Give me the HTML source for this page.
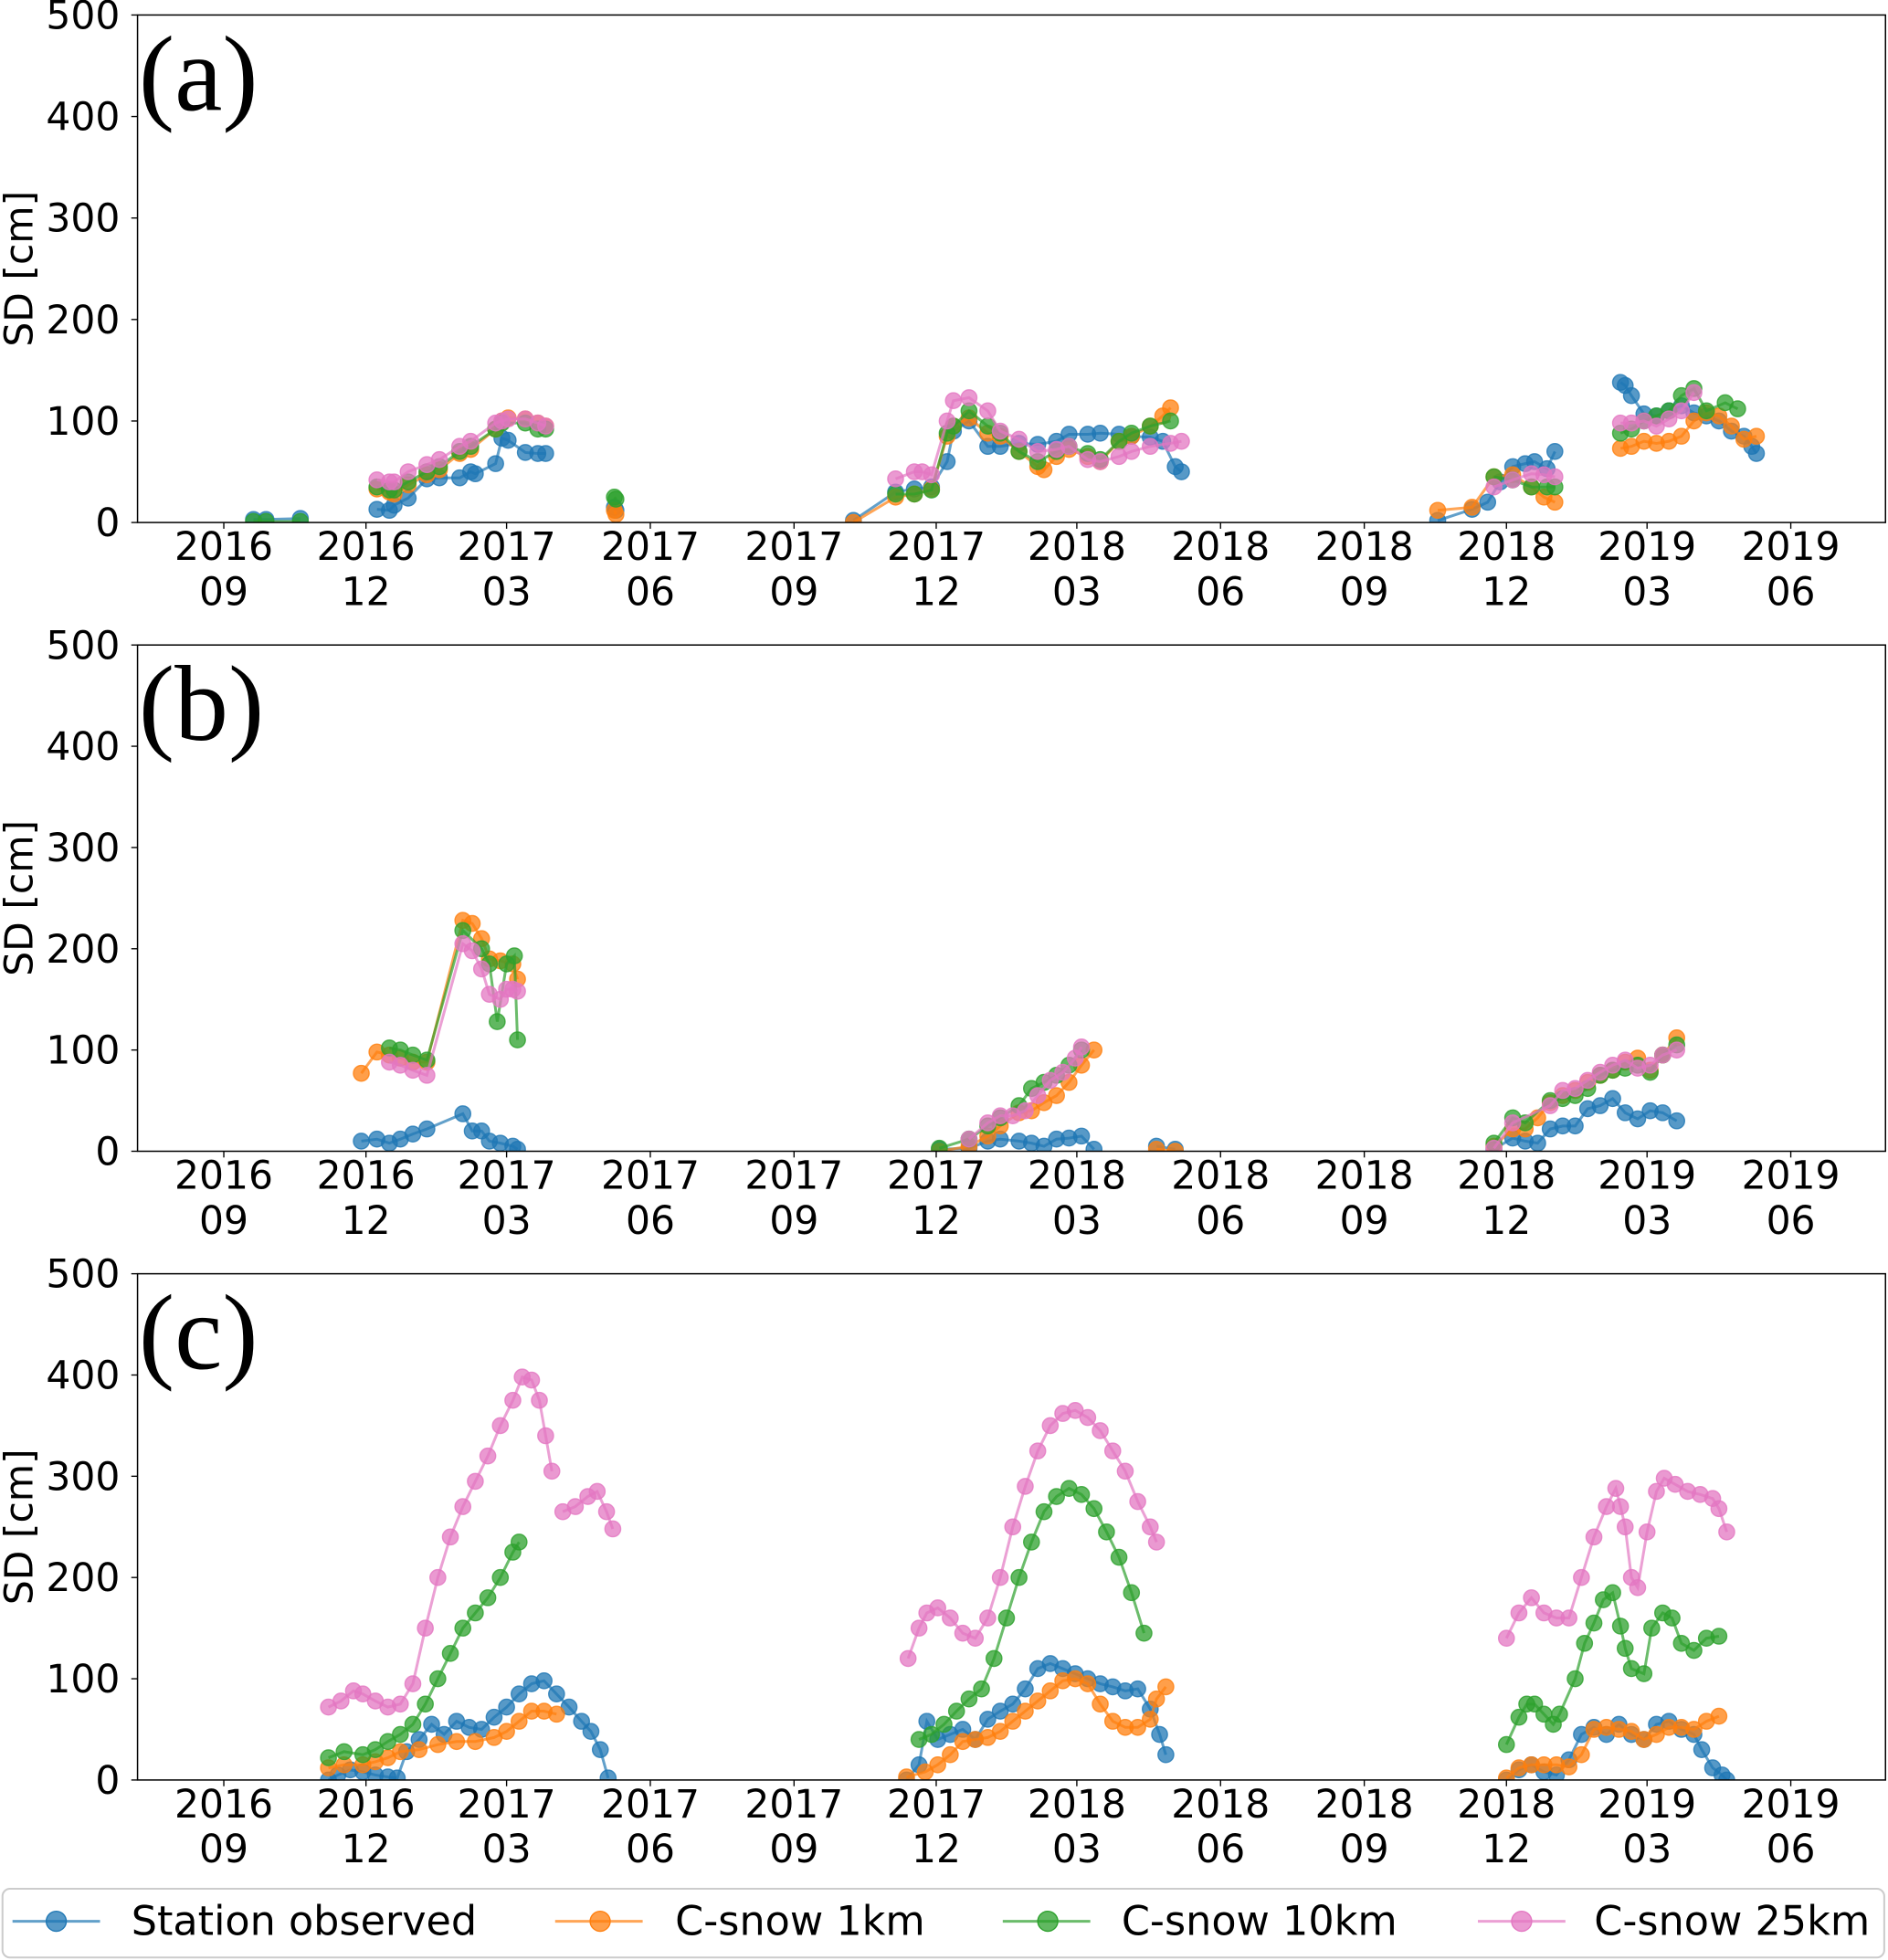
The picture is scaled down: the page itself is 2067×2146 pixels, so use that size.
<!DOCTYPE html>
<html><head><meta charset="utf-8"><style>
html,body{margin:0;padding:0;background:#fff}
svg{display:block}
text{font-family:"DejaVu Sans","Liberation Sans",sans-serif;fill:#000}
</style></head><body>
<svg id="chart" width="2067" height="2146" viewBox="0 0 1510 1568" preserveAspectRatio="none" xmlns="http://www.w3.org/2000/svg"></svg>
<script>
// ---------- data (days since 2016-09-01, SD in cm; null = gap) ----------
const xTickLabels=[["2016","09"],["2016","12"],["2017","03"],["2017","06"],["2017","09"],["2017","12"],["2018","03"],["2018","06"],["2018","09"],["2018","12"],["2019","03"],["2019","06"]];
const xTickDays=[0,91,181,273,365,456,546,638,730,821,911,1003];
const yTickValues=[0,100,200,300,400,500];
const panelLetters=["(a)","(b)","(c)"];
const seriesNames=["Station observed","C-snow 1km","C-snow 10km","C-snow 25km"];

// Panel (a)
const aStationDays=[19,27,49,null,98,106,109,118,130,138,151,158,161,174,178,182,193,201,206,null,250,251,null,403,430,442,453,463,467,477,489,497,509,521,533,541,553,561,573,581,593,601,609,613,null,777,799,809,817,825,833,839,847,852,null,894,897,901,909,917,925,933,941,949,957,965,973,978,981];
const aStationSD=[3,3,4,null,13,12,17,24,43,44,44,50,48,58,83,81,69,68,68,null,15,12,null,2,30,33,35,60,90,100,75,75,78,77,80,87,87,88,87,85,84,80,55,50,null,2,13,20,40,55,58,60,53,70,null,138,135,125,107,105,110,115,108,105,100,90,85,75,68];
const a1kmDays=[98,106,109,118,130,138,151,158,174,178,182,193,201,206,null,250,251,null,403,430,442,453,463,467,477,489,497,509,521,525,533,541,553,561,573,581,593,601,606,null,777,799,813,825,837,845,852,null,894,901,909,917,925,933,941,949,957,965,973,981];
const a1kmSD=[33,30,28,37,47,52,68,72,92,100,103,102,98,95,null,12,8,null,0,25,28,33,85,95,103,88,85,70,55,52,65,72,65,60,80,85,95,105,113,null,12,15,45,47,35,25,20,null,73,75,80,78,80,85,100,108,105,95,82,85];
const a10kmDays=[19,27,49,null,98,106,109,118,130,138,151,158,174,178,193,201,206,null,250,251,null,430,442,453,463,467,477,489,497,509,521,533,541,553,561,573,581,593,606,null,813,825,837,847,852,null,894,901,909,917,925,933,941,949,961,969];
const a10kmSD=[1,1,1,null,35,32,32,40,50,55,70,75,92,98,98,92,92,null,25,23,null,28,28,32,88,95,110,95,88,70,60,70,75,68,62,80,88,95,100,null,45,42,35,35,35,null,88,92,100,105,110,125,132,110,118,112];
const a25kmDays=[98,106,109,118,130,138,151,158,174,178,182,193,201,206,null,430,442,447,453,463,467,477,489,497,509,521,533,541,553,561,573,581,593,606,613,null,813,825,837,845,852,null,894,901,909,917,925,933,941];
const a25kmSD=[42,40,40,50,57,62,75,80,98,100,102,102,98,95,null,43,50,50,47,100,120,123,110,90,82,70,72,75,62,60,65,70,75,78,80,null,35,42,48,47,45,null,98,98,100,95,102,110,128];

// Panel (b)
const bStationDays=[88,98,106,113,121,130,153,159,165,170,177,185,188,null,458,477,489,497,509,517,525,533,541,549,557,null,597,609,null,813,825,833,841,849,857,865,873,881,889,897,905,913,921,930];
const bStationSD=[10,12,8,12,17,22,37,20,20,10,8,5,2,null,2,3,10,12,10,8,5,12,13,15,2,null,5,2,null,2,13,10,8,22,25,25,42,45,52,38,32,40,38,30];
const b1kmDays=[88,98,106,113,121,130,153,159,165,170,177,185,188,null,458,477,489,497,509,517,525,533,541,549,557,null,597,609,null,813,825,833,841,849,857,865,873,881,889,897,905,913,921,930];
const b1kmSD=[77,98,95,92,88,88,228,225,210,190,188,185,170,null,0,5,15,25,38,40,48,55,68,85,100,null,2,0,null,5,22,22,33,48,55,60,68,75,80,88,92,80,95,112];
const b10kmDays=[106,113,121,130,153,165,170,175,181,186,188,null,458,477,489,497,509,517,525,533,541,549,null,813,825,833,849,857,865,873,881,889,897,905,913,921,930];
const b10kmSD=[102,100,95,90,218,200,185,128,185,193,110,null,3,12,25,33,45,62,68,75,85,100,null,8,33,28,50,52,55,62,75,80,82,85,78,95,105];
const b25kmDays=[106,113,121,130,153,159,165,170,177,181,185,188,null,477,489,497,505,513,521,529,537,545,549,null,813,825,849,857,865,873,881,889,897,905,913,921,930];
const b25kmSD=[88,85,80,75,205,198,180,155,150,160,160,158,null,12,28,35,35,40,55,70,78,92,103,null,3,28,45,60,62,70,78,85,90,82,85,95,100];

// Panel (c)
const cStationDays=[67,73,81,89,97,105,111,117,125,133,141,149,157,165,173,181,189,197,205,213,221,229,235,241,246,null,437,445,450,457,465,473,481,489,497,505,513,521,529,537,545,553,561,569,577,585,593,599,603,null,821,829,837,845,853,861,869,877,885,893,901,909,917,925,933,941,946,953,959,962];
const cStationSD=[0,5,10,8,5,3,2,28,40,55,45,58,52,50,62,72,85,95,98,85,72,58,48,30,2,null,0,15,58,40,45,50,40,60,68,75,90,110,115,110,105,100,95,92,88,90,70,45,25,null,0,10,15,8,5,20,45,52,45,55,45,40,55,58,50,45,30,12,5,0];
const c1kmDays=[67,77,89,97,105,113,125,137,149,161,173,181,189,197,205,213,null,437,449,457,465,473,481,489,497,505,513,521,529,537,545,553,561,569,577,585,593,597,603,null,821,829,837,845,853,861,869,877,885,893,901,909,917,925,933,941,949,957];
const c1kmSD=[12,15,15,18,22,28,30,35,38,38,42,48,58,68,68,65,null,3,8,15,25,38,40,42,48,58,68,78,88,98,100,95,75,58,52,52,60,80,92,null,2,12,15,15,15,13,25,50,52,50,48,40,45,52,52,50,58,63];
const c10kmDays=[67,77,89,97,105,113,121,129,137,145,153,161,169,177,185,189,null,445,453,461,469,477,485,493,501,509,517,525,533,541,549,557,565,573,581,589,null,821,829,834,839,845,851,855,865,871,877,883,889,894,897,901,909,914,921,927,933,941,949,957];
const c10kmSD=[22,28,25,30,38,45,55,75,100,125,150,165,180,200,225,235,null,40,45,55,68,80,90,120,160,200,235,265,280,288,282,268,245,220,185,145,null,35,62,75,75,65,55,65,100,135,155,178,185,152,130,110,105,150,165,160,135,128,140,142];
const c25kmDays=[67,75,83,89,97,105,113,121,129,137,145,153,161,169,177,185,191,197,202,206,210,null,217,225,233,239,245,249,null,438,445,450,457,465,473,481,489,497,505,513,521,529,537,545,553,561,569,577,585,593,597,null,821,829,837,845,853,861,869,877,885,891,894,897,901,905,911,917,922,929,937,945,953,957,962];
const c25kmSD=[72,78,88,85,78,72,75,95,150,200,240,270,295,320,350,375,398,395,375,340,305,null,265,270,280,285,265,248,null,120,150,165,170,160,145,140,160,200,250,290,325,350,362,365,358,345,325,305,275,250,235,null,140,165,180,165,160,160,200,240,270,288,270,250,200,190,245,285,298,292,285,282,278,268,245];

const panels=[
  {top:12,bottom:418,series:[[aStationDays,aStationSD],[a1kmDays,a1kmSD],[a10kmDays,a10kmSD],[a25kmDays,a25kmSD]]},
  {top:516,bottom:921,series:[[bStationDays,bStationSD],[b1kmDays,b1kmSD],[b10kmDays,b10kmSD],[b25kmDays,b25kmSD]]},
  {top:1019,bottom:1424,series:[[cStationDays,cStationSD],[c1kmDays,c1kmSD],[c10kmDays,c10kmSD],[c25kmDays,c25kmSD]]}
];
const colors=["#1f77b4","#ff7f0e","#2ca02c","#e377c2"];
const seriesKeys=["station","csnow-1km","csnow-10km","csnow-25km"];

// ---------- rendering ----------
const NS="http://www.w3.org/2000/svg";
const svg=document.getElementById('chart');
const L=110,R=1508;
function xScale(d){return 179+d*1.2495;}
function yScale(v,p){return p.bottom-v*(p.bottom-p.top)/500;}
function mk(tag,attrs,parent){const e=document.createElementNS(NS,tag);for(const k in attrs)e.setAttribute(k,attrs[k]);(parent||svg).appendChild(e);return e;}

panels.forEach((p,pi)=>{
  const letter="abc"[pi];
  const g=mk('g',{});
  
  
  const clipId='clip'+pi;
  const cp=mk('clipPath',{id:clipId},g);
  mk('rect',{x:L,y:p.top,width:R-L,height:p.bottom-p.top},cp);
  p.series.forEach((s,si)=>{
    const days=s[0],vals=s[1];
    const sg=mk('g',{'clip-path':'url(#'+clipId+')'},g);
    
    
    let d="",pen=false;
    for(let i=0;i<days.length;i++){
      if(days[i]===null||vals[i]===null){pen=false;continue;}
      const x=xScale(days[i]),y=yScale(vals[i],p);
      d+=(pen?"L":"M")+x.toFixed(1)+","+y.toFixed(1);pen=true;
    }
    const line=mk('path',{d:d,fill:'none',stroke:colors[si],'stroke-width':2.2,'stroke-opacity':0.7},sg);
    
    
    for(let i=0;i<days.length;i++){
      if(days[i]===null||vals[i]===null)continue;
      const c=mk('circle',{cx:xScale(days[i]),cy:yScale(vals[i],p),r:6.3,fill:colors[si],'fill-opacity':0.75,stroke:colors[si],'stroke-opacity':0.8,'stroke-width':1},sg);
      
      
    }
  });
  const fr=mk('rect',{x:L,y:p.top,width:R-L,height:p.bottom-p.top,fill:'none',stroke:'#000','stroke-width':1.1},g);
  
  
  yTickValues.forEach(v=>{
    const y=yScale(v,p);
    mk('line',{x1:L-5,x2:L,y1:y,y2:y,stroke:'#000','stroke-width':1},g);
    const t=mk('text',{x:96,y:y+11,'text-anchor':'end','font-size':31},g);
    t.textContent=v;
    
    
  });
  xTickDays.forEach((dd,i)=>{
    const x=xScale(dd);
    mk('line',{x1:x,x2:x,y1:p.bottom,y2:p.bottom+5,stroke:'#000','stroke-width':1},g);
    const t=mk('text',{x:x,y:p.bottom+30,'text-anchor':'middle','font-size':31},g);
    t.textContent=xTickLabels[i][0];
    
    
    const t2=mk('text',{x:x,y:p.bottom+66,'text-anchor':'middle','font-size':31},g);
    t2.textContent=xTickLabels[i][1];
    
    
  });
  const cy=(p.top+p.bottom)/2;
  const yl=mk('text',{x:0,y:0,'text-anchor':'middle','font-size':31,transform:'translate(26,'+cy+') rotate(-90)'},g);
  yl.textContent="SD [cm]";
  
  
  const pl=mk('text',{x:111,y:p.top+76,'font-size':86,style:'font-family:"Liberation Serif",serif'},g);
  pl.textContent=panelLetters[pi];
  
  
});

// legend
const lg=mk('g',{});


mk('rect',{x:2,y:1511,width:1505,height:55,rx:6,fill:'#fff',stroke:'#ccc','stroke-width':1.5},lg);
const legX=[[10,45,105],[444,480,540],[802,838,897],[1182,1217,1275]];
seriesNames.forEach((n,i)=>{
  const eg=mk('g',{},lg);
  
  
  const lx=legX[i];
  mk('line',{x1:lx[0],x2:lx[0]+70,y1:1537,y2:1537,stroke:colors[i],'stroke-width':2.2,'stroke-opacity':0.7},eg);
  mk('circle',{cx:lx[1],cy:1537,r:8,fill:colors[i],'fill-opacity':0.75,stroke:colors[i]},eg);
  const t=mk('text',{x:lx[2],y:1548,'font-size':32.5},eg);
  t.textContent=n;
});
</script>
</body></html>
